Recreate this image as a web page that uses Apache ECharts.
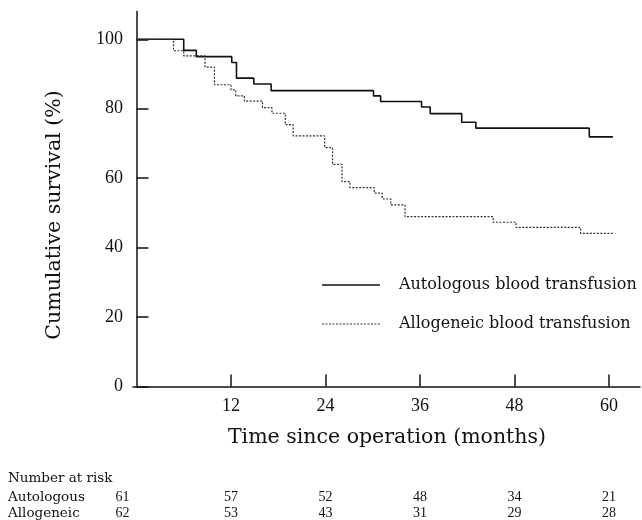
<!DOCTYPE html>
<html><head><meta charset="utf-8">
<script src="https://cdn.jsdelivr.net/npm/echarts@6/dist/echarts.min.js"></script>
<style>html,body{margin:0;padding:0;background:#fff}#c{width:642px;height:520px}</style>
</head><body><div id="c"></div>
<script>
const seriesNames = ['Autologous blood transfusion', 'Allogeneic blood transfusion'];
const autoTimes = [0, 6.0, 7.6, 12.1, 12.7, 14.9, 17.1, 30.1, 31.0, 36.2, 37.3, 41.3, 43.1, 57.5, 60.5];
const autoSurv  = [100, 96.8, 95.0, 93.3, 88.8, 87.1, 85.2, 83.7, 82.1, 80.5, 78.6, 76.1, 74.4, 71.9, 71.9];
const alloTimes = [0, 4.7, 6.0, 8.7, 9.9, 12.0, 12.6, 13.7, 16.0, 17.2, 18.9, 19.9, 23.9, 24.9, 26.1, 27.1, 30.2, 31.2, 32.3, 34.1, 45.3, 48.2, 56.4, 60.5];
const alloSurv  = [100, 96.7, 95.2, 92.0, 86.9, 85.4, 83.7, 82.2, 80.3, 78.7, 75.4, 72.2, 68.8, 64.0, 59.0, 57.3, 55.7, 54.0, 52.3, 48.9, 47.3, 45.8, 44.1, 44.1];
const xTicks = [12, 24, 36, 48, 60];
const yTicks = [0, 20, 40, 60, 80, 100];
const riskTitle = 'Number at risk';
const riskGroups = ['Autologous', 'Allogeneic'];
const riskTimes = [0, 12, 24, 36, 48, 60];
const riskAuto = [61, 57, 52, 48, 34, 21];
const riskAllo = [62, 53, 43, 31, 29, 28];
const xTitle = 'Time since operation (months)';
const yTitle = 'Cumulative survival (%)';

const NUMFONT = '"Liberation Serif", serif';
const WORDFONT = '"DejaVu Serif", "Liberation Serif", serif';
const INK = '#111';
const DOT = [2, 1.5];
const chart = echarts.init(document.getElementById('c'), null, {renderer: 'canvas'});
const pair = (xs, ys) => xs.map((x, i) => [x, ys[i]]);

chart.setOption({
  animation: false,
  backgroundColor: '#fff',
  grid: {left: 133, right: 2, top: 11.5, bottom: 133.5, containLabel: false},
  xAxis: {
    type: 'value', min: -0.44, max: 63.94,
    splitLine: {show: false},
    axisLine: {lineStyle: {color: INK, width: 1.5}},
    axisTick: {inside: true, length: 12, customValues: xTicks, lineStyle: {color: INK, width: 1.5}},
    axisLabel: {customValues: xTicks, margin: 11, color: INK, fontSize: 18, fontFamily: NUMFONT}
  },
  yAxis: {
    type: 'value', min: 0, max: 108,
    splitLine: {show: false},
    axisLine: {show: true, lineStyle: {color: INK, width: 1.5}},
    axisTick: {show: true, inside: true, length: 12, customValues: yTicks, lineStyle: {color: INK, width: 1.5}},
    axisLabel: {customValues: yTicks, margin: 10, color: INK, fontSize: 18, fontFamily: NUMFONT}
  },
  series: [
    {name: seriesNames[0], type: 'line', step: 'end', symbol: 'none',
     lineStyle: {color: INK, width: 1.6, type: 'solid'},
     data: pair(autoTimes, autoSurv)},
    {name: seriesNames[1], type: 'line', step: 'end', symbol: 'none',
     lineStyle: {color: '#333', width: 1.2, type: DOT},
     data: pair(alloTimes, alloSurv)}
  ]
});

const px = t => chart.convertToPixel({gridIndex: 0}, [t, 0])[0];
const g = [];
const txt = (x, y, s, font, align, extra) => Object.assign({type: 'text', x: x, y: y,
  style: {text: s, font: font, fill: INK, textAlign: align || 'left', textVerticalAlign: 'middle'}}, extra || {});
g.push(txt(387, 438, xTitle, '20.5px ' + WORDFONT, 'center'));
g.push(txt(55, 215, yTitle, '20.5px ' + WORDFONT, 'center', {rotation: Math.PI / 2}));
// legend
const legY = [285, 324];
seriesNames.forEach((n, i) => {
  g.push({type: 'line', shape: {x1: 322, y1: legY[i], x2: 380, y2: legY[i]},
    style: i === 0 ? {stroke: INK, lineWidth: 1.5} : {stroke: '#333', lineWidth: 1.2, lineDash: DOT}});
  g.push(txt(399, legY[i], n, '16px ' + WORDFONT, 'left'));
});
// number at risk table
g.push(txt(8, 478, riskTitle, '13.5px ' + WORDFONT, 'left'));
const rows = [riskAuto, riskAllo];
const rowY = [497, 513];
rows.forEach((vals, r) => {
  g.push(txt(8, rowY[r], riskGroups[r], '13.5px ' + WORDFONT, 'left'));
  vals.forEach((v, i) => {
    const x = i === 0 ? px(riskTimes[i]) - 14 : px(riskTimes[i]);
    g.push(txt(x, rowY[r], String(v), '14px ' + NUMFONT, 'center'));
  });
});
chart.setOption({graphic: g});
</script>
</body></html>
